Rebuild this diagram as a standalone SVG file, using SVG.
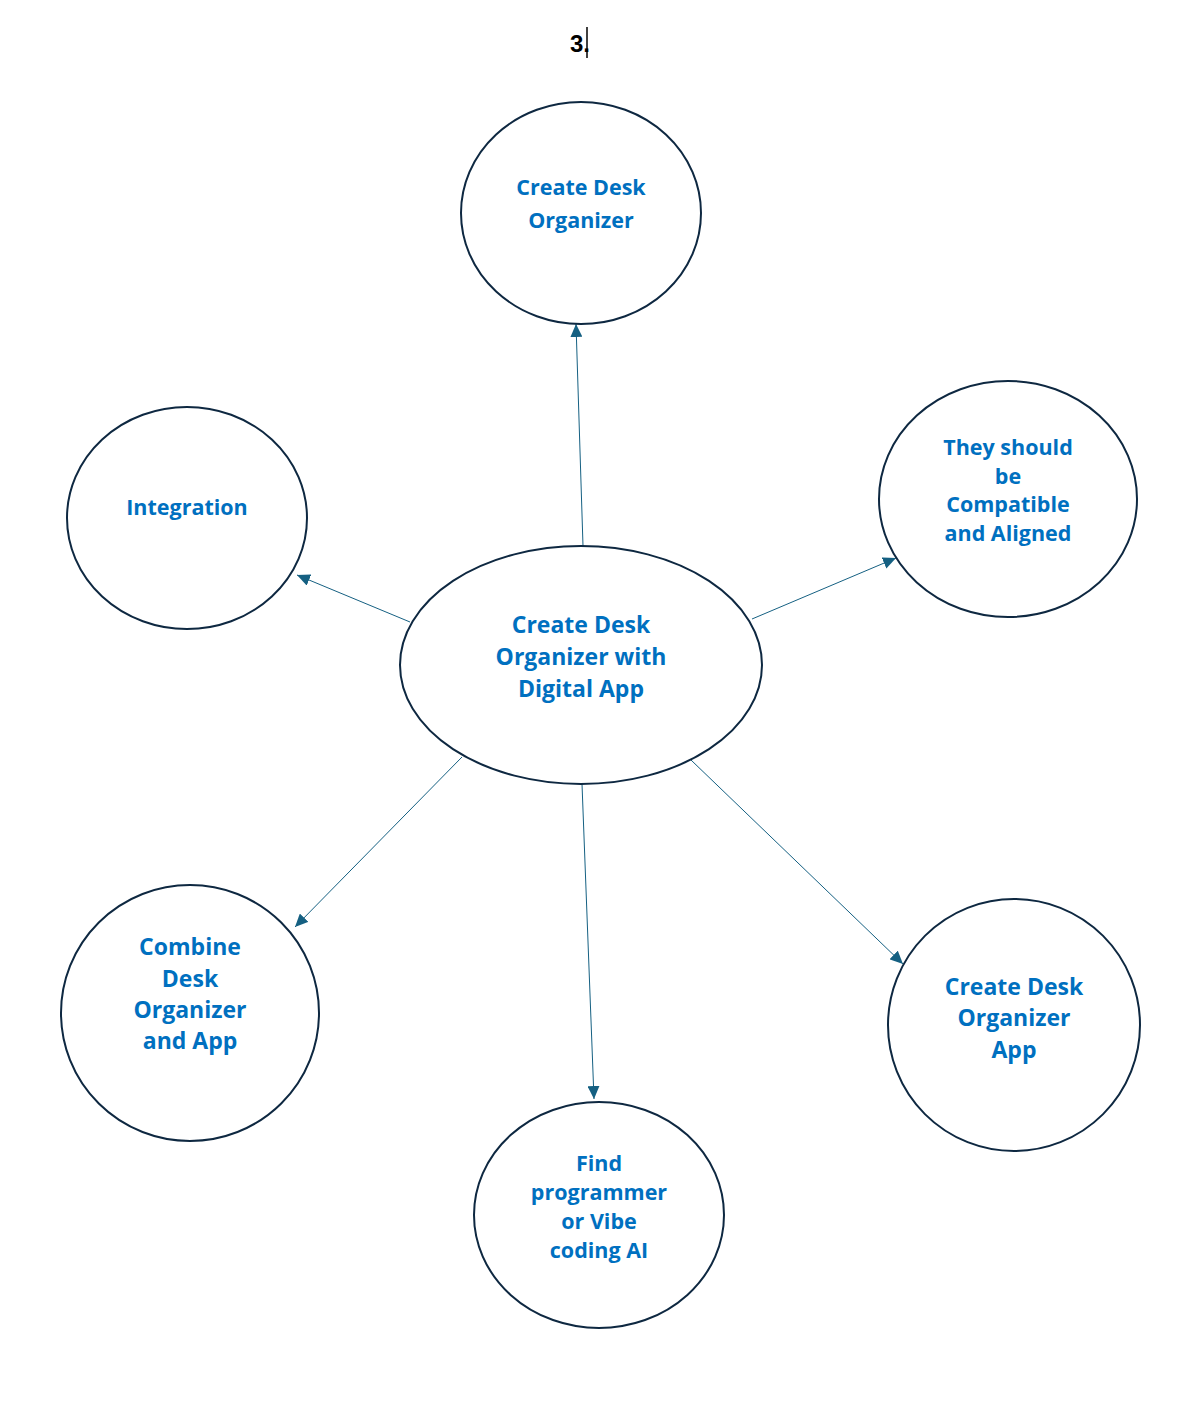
<svg xmlns="http://www.w3.org/2000/svg" width="1203" height="1414" viewBox="0 0 1203 1414">
<style>
.n{fill:#fff;stroke:#0E2841;stroke-width:2}
.t{font-family:"Open Sans","Liberation Sans",sans-serif;font-weight:bold;fill:#0070C0;text-anchor:middle;dominant-baseline:central}
.s{font-size:21.5px}
.l{font-size:23px}
.c{stroke:#156082;stroke-width:1;fill:none;marker-end:url(#ah)}
</style>
<defs>
<marker id="ah" markerUnits="userSpaceOnUse" markerWidth="14" markerHeight="12" refX="13" refY="6" orient="auto">
<path d="M0,0 L13,6 L0,12 Z" fill="#156082"/>
</marker>
</defs>
<rect width="1203" height="1414" fill="#fff"/>
<g id="title">
<text x="580" y="43" font-family="Liberation Sans,Arial,sans-serif" font-weight="bold" font-size="24" text-anchor="middle" dominant-baseline="central" fill="#000">3.</text>
<line x1="587" y1="27" x2="587" y2="58" stroke="#000" stroke-width="1.5"/>
</g>
<g id="connectors">
<line class="c" x1="583" y1="546" x2="576" y2="324"/>
<line class="c" x1="410" y1="622" x2="297" y2="575"/>
<line class="c" x1="752" y1="619" x2="896" y2="558"/>
<line class="c" x1="462" y1="757" x2="295" y2="927"/>
<line class="c" x1="582" y1="784" x2="594" y2="1099"/>
<line class="c" x1="691" y1="760" x2="903" y2="964"/>
</g>
<g id="center">
<ellipse class="n" cx="581" cy="665" rx="181" ry="119"/>
<text class="t l" x="581" y="624">Create Desk</text>
<text class="t l" x="581" y="656">Organizer with</text>
<text class="t l" x="581" y="688">Digital App</text>
</g>
<g id="top">
<ellipse class="n" cx="581" cy="213" rx="120" ry="111"/>
<text class="t s" x="581" y="186">Create Desk</text>
<text class="t s" x="581" y="219">Organizer</text>
</g>
<g id="integration">
<ellipse class="n" cx="187" cy="518" rx="120" ry="111"/>
<text class="t s" x="187" y="506">Integration</text>
</g>
<g id="compatible">
<ellipse class="n" cx="1008" cy="499" rx="129" ry="118"/>
<text class="t s" x="1008" y="446">They should</text>
<text class="t s" x="1008" y="475">be</text>
<text class="t s" x="1008" y="503">Compatible</text>
<text class="t s" x="1008" y="532">and Aligned</text>
</g>
<g id="combine">
<ellipse class="n" cx="190" cy="1013" rx="129" ry="128"/>
<text class="t l" x="190" y="946">Combine</text>
<text class="t l" x="190" y="978">Desk</text>
<text class="t l" x="190" y="1009">Organizer</text>
<text class="t l" x="190" y="1040">and App</text>
</g>
<g id="find">
<ellipse class="n" cx="599" cy="1215" rx="125" ry="113"/>
<text class="t s" x="599" y="1162">Find</text>
<text class="t s" x="599" y="1191">programmer</text>
<text class="t s" x="599" y="1220">or Vibe</text>
<text class="t s" x="599" y="1249">coding AI</text>
</g>
<g id="app">
<ellipse class="n" cx="1014" cy="1025" rx="126" ry="126"/>
<text class="t l" x="1014" y="986">Create Desk</text>
<text class="t l" x="1014" y="1017">Organizer</text>
<text class="t l" x="1014" y="1049">App</text>
</g>
</svg>
